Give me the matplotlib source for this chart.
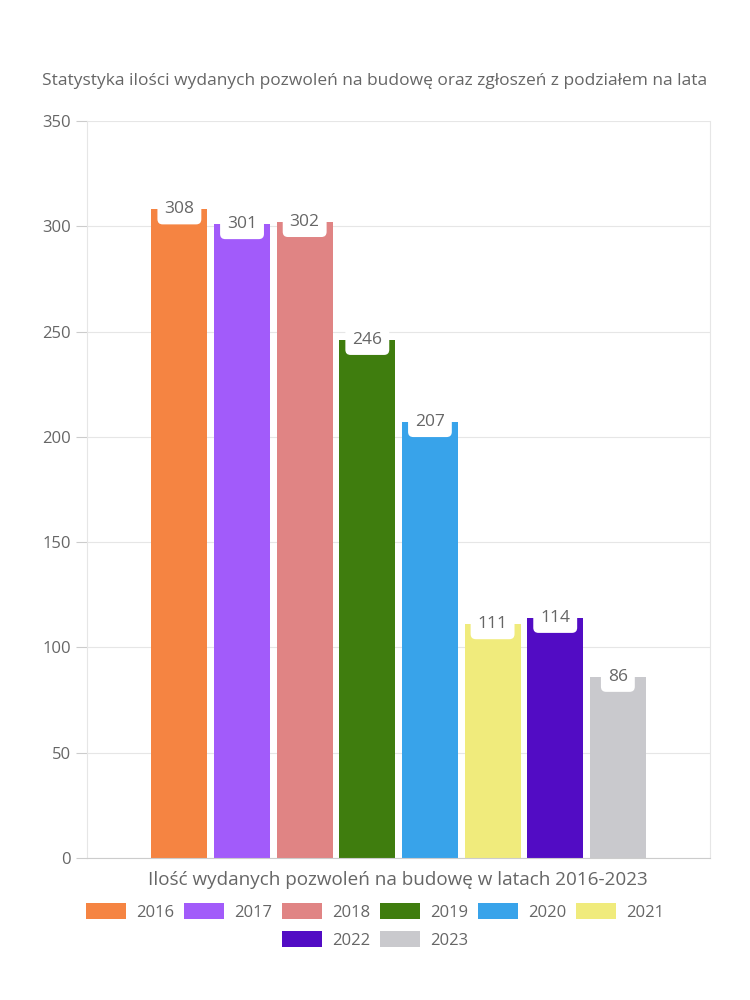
import matplotlib.pyplot as plt
import numpy as np
from matplotlib.patches import Patch

years = ['2016', '2017', '2018', '2019', '2020', '2021', '2022', '2023']
permits = [308, 301, 302, 246, 207, 111, 114, 86]
colors = ['#F58442', '#A25BFA', '#E08484', '#3F7D0E', '#38A3EA',
          '#F0EB7C', '#520CC4', '#C9C9CD']

plt.rcParams['font.family'] = ['Open Sans', 'DejaVu Sans']
text_color = '#666666'

fig = plt.figure(figsize=(7.5, 10), dpi=100)
ax = fig.add_axes([0.116, 0.142, 0.831, 0.737])

x = np.arange(len(years))
bars = ax.bar(x, permits, width=0.895, color=colors, zorder=2)

for xi, v in zip(x, permits):
    ax.annotate(str(v), (xi, v), xytext=(0, 0), textcoords='offset points',
                ha='center', va='center', fontsize=12.5, color=text_color, zorder=3,
                bbox=dict(boxstyle='round,pad=0.4,rounding_size=0.3', fc='white', ec='none'))

ax.set_xlim(3.5 - 4.975, 3.5 + 4.975)
ax.set_ylim(0, 350)
ax.set_yticks(range(0, 351, 50))
ax.set_xticks([])
ax.grid(axis='y', color='#e6e6e6', linewidth=0.8, zorder=0)
for side in ['left', 'right', 'top']:
    ax.spines[side].set_color('#e6e6e6')
ax.spines['top'].set_visible(False)
ax.spines['bottom'].set_color('#cccccc')
ax.tick_params(axis='y', colors='#cccccc', labelcolor=text_color, labelsize=12, length=8)

fig.text(0.5, 0.919, 'Statystyka ilości wydanych pozwoleń na budowę oraz zgłoszeń z podziałem na lata',
         ha='center', va='center', fontsize=12.5, color=text_color)
fig.text(0.531, 0.12, 'Ilość wydanych pozwoleń na budowę w latach 2016-2023',
         ha='center', va='center', fontsize=13.6, color=text_color)

handles = [Patch(facecolor=c, label=y) for c, y in zip(colors, years)]
leg_kw = dict(loc='center', frameon=False, fontsize=12, labelcolor=text_color,
              handlelength=2.4, handleheight=1.1, handletextpad=0.6, columnspacing=0.6)
fig.legend(handles=handles[:6], bbox_to_anchor=(0.5, 0.088), ncol=6, **leg_kw)
fig.legend(handles=handles[6:], bbox_to_anchor=(0.5, 0.06), ncol=2, **leg_kw)

fig.savefig('out.png', dpi=100, facecolor='white')
